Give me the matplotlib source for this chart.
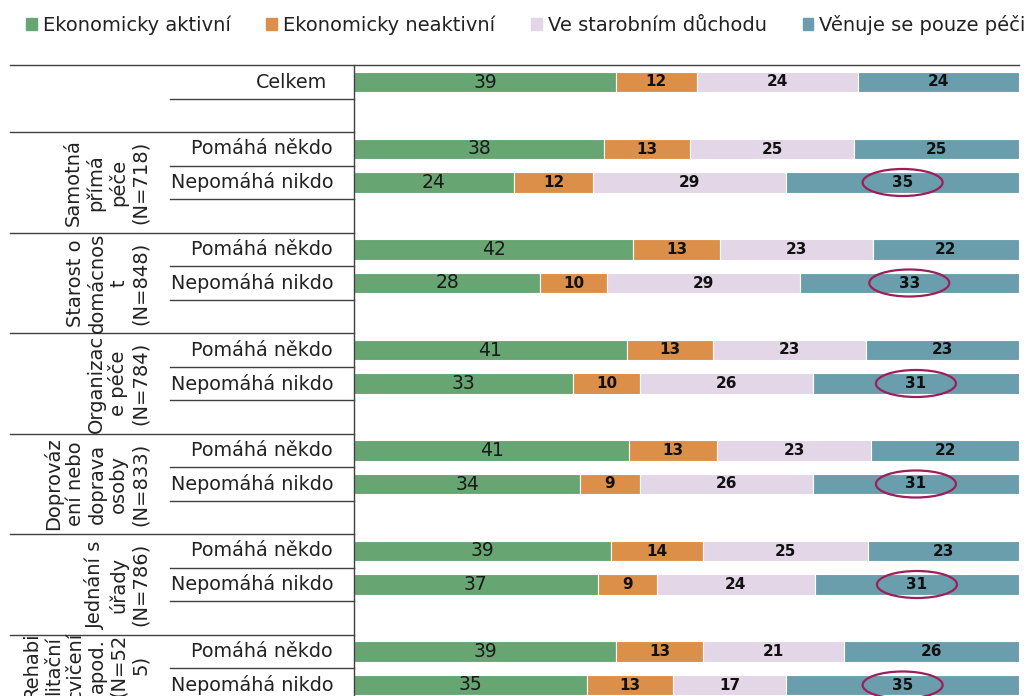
import matplotlib.pyplot as plt
from matplotlib.patches import Ellipse, Patch

series = ['Ekonomicky aktivní', 'Ekonomicky neaktivní',
          'Ve starobním důchodu', 'Věnuje se pouze péči']
colors = ['#67a673', '#db8f49', '#e3d6e6', '#6a9ead']

groups = ['Samotná\npřímá\npéče\n(N=718)',
          'Starost o\ndomácnos\nt\n(N=848)',
          'Organizac\ne péče\n(N=784)',
          'Doprováz\není nebo\ndoprava\nosoby\n(N=833)',
          'Jednání s\núřady\n(N=786)',
          'Rehabi\nlitační\ncvičení\napod.\n(N=52\n5)']
row_labels = ['Pomáhá někdo', 'Nepomáhá nikdo']
total_label = 'Celkem'

total = [39, 12, 24, 24]
helped = [[38, 13, 25, 25], [42, 13, 23, 22], [41, 13, 23, 23],
          [41, 13, 23, 22], [39, 14, 25, 23], [39, 13, 21, 26]]
not_helped = [[24, 12, 29, 35], [28, 10, 29, 33], [33, 10, 26, 31],
              [34, 9, 26, 31], [37, 9, 24, 31], [35, 13, 17, 35]]

# layout in pixels
W, H = 1036, 696
X0, X1 = 354, 1019          # bar area
Y0, PITCH = 82, 33.5        # first row centre, row pitch


def px(x):
    return (x - X0) / (X1 - X0)


fig = plt.figure(figsize=(W / 100, H / 100), dpi=100)
ax = fig.add_axes([0, 0, 1, 1])
y_bottom = -0.5 + (H - (Y0 - PITCH / 2)) / PITCH
ax.set_xlim(px(0), px(W))
ax.set_ylim(y_bottom, -0.5 - (Y0 - PITCH / 2) / PITCH)
ax.axis('off')

line_c = '#404040'
txt_c = '#222222'


def draw_bar(y, vals, circle=False):
    s = sum(vals)
    left = 0
    for i, v in enumerate(vals):
        w = v / s
        ax.barh(y, w, left=left, height=0.62, color=colors[i],
                edgecolor='white', linewidth=0.8)
        c = left + w / 2
        if i == 0:
            ax.text(c, y, str(v), ha='center', va='center', fontsize=13.5,
                    color='#1a1a1a', family=['Liberation Sans Narrow', 'DejaVu Sans'])
        else:
            ax.text(c, y, str(v), ha='center', va='center', fontsize=11,
                    fontweight='bold', color='#111111')
        if circle and i == 3:
            ax.add_patch(Ellipse((c, y), 80 / (X1 - X0), 27 / PITCH, fill=False,
                                 edgecolor='#9c1f5c', linewidth=1.6))
        left += w


# total row
draw_bar(0, total)
ax.text(px(327), 0, total_label, ha='right', va='center', fontsize=13.8, color=txt_c)
ax.plot([px(10), 1], [-0.5, -0.5], color=line_c, lw=1.0)
ax.plot([px(170), 0], [0.5, 0.5], color=line_c, lw=1.0)

for g, name in enumerate(groups):
    r0 = 2 + 3 * g
    draw_bar(r0, helped[g])
    draw_bar(r0 + 1, not_helped[g], circle=True)
    for k, lab in enumerate(row_labels):
        ax.text(px(333), r0 + k, lab, ha='right', va='center', fontsize=13.8,
                color=txt_c)
    ax.plot([px(10), 0], [r0 - 0.5, r0 - 0.5], color=line_c, lw=1.0)
    ax.plot([px(170), 0], [r0 + 0.5, r0 + 0.5], color=line_c, lw=1.0)
    ax.plot([px(170), 0], [r0 + 1.5, r0 + 1.5], color=line_c, lw=1.0)
    # group label centred on the visible part of the group
    yc = (r0 - 0.5 + min(r0 + 2.5, y_bottom)) / 2
    ax.text(px(150), yc, name, rotation=90, ha='right', va='center',
            multialignment='center', fontsize=14, color=txt_c,
            linespacing=1.18)

ax.plot([0, 0], [-0.5, 30], color=line_c, lw=1.0)

handles = [Patch(color=c) for c in colors]
fig.legend(handles, series, loc='center left', bbox_to_anchor=(26 / W, 1 - 25 / H),
           ncol=4, frameon=False, fontsize=14, handlelength=0.55, handleheight=0.55,
           handletextpad=0.3, columnspacing=1.85, borderpad=0, borderaxespad=0,
           labelcolor=txt_c)

fig.savefig('out.png', dpi=100)
